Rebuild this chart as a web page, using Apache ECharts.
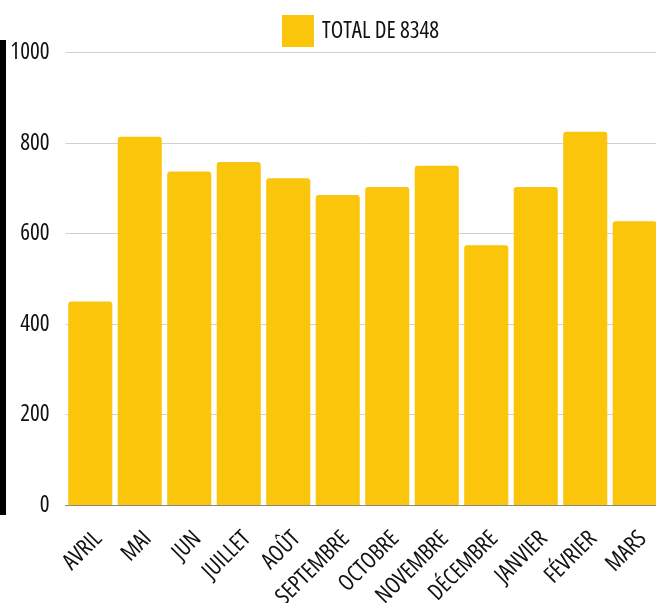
<!DOCTYPE html>
<html>
<head>
<meta charset="utf-8">
<script src="https://cdn.jsdelivr.net/npm/echarts@6/dist/echarts.min.js"></script>
<style>
  html, body { margin: 0; padding: 0; background: #fff; }
  #chart { width: 656px; height: 603px; }
</style>
</head>
<body>
<div id="chart"></div>
<script>
const months = ['AVRIL', 'MAI', 'JUN', 'JUILLET', 'AOÛT', 'SEPTEMBRE', 'OCTOBRE', 'NOVEMBRE', 'DÉCEMBRE', 'JANVIER', 'FÉVRIER', 'MARS']
const totals = [450, 814, 737, 758, 722, 685, 703, 750, 574, 703, 825, 627]
const seriesName = 'TOTAL DE 8348'
const yTicks = { min: 0, max: 1000, step: 200 }

// Open Sans has a condensed face; ask for it through the font shorthand
const font = "'Open Sans', sans-serif"
const narrow = 'condensed'

const chart = echarts.init(document.getElementById('chart'))
chart.setOption({
  backgroundColor: '#fff',
  animation: false,
  graphic: [
    { type: 'rect', shape: { x: 0, y: 40, width: 6, height: 475 }, style: { fill: '#000' } }
  ],
  legend: {
    left: 277,
    top: 10,
    itemWidth: 32,
    itemHeight: 32,
    icon: 'rect',
    textStyle: { fontFamily: font, fontWeight: narrow, fontSize: 23, color: '#111', padding: [0, 0, 0, 3] }
  },
  grid: { left: 65.5, top: 52.5, width: 594, height: 452.5, containLabel: false, outerBoundsMode: 'none' },
  xAxis: {
    type: 'category',
    data: months,
    axisTick: { show: false },
    axisLine: { lineStyle: { color: '#888' } },
    axisLabel: {
      rotate: 45, fontFamily: font, fontWeight: narrow, fontSize: 23, color: '#111',
      margin: 22, interval: 0, verticalAlign: 'top'
    }
  },
  yAxis: {
    type: 'value',
    min: yTicks.min,
    max: yTicks.max,
    interval: yTicks.step,
    axisLine: { show: false },
    axisTick: { show: false },
    splitLine: { lineStyle: { color: '#d0d0d0' } },
    axisLabel: { fontFamily: font, fontWeight: narrow, fontSize: 23, color: '#111', margin: 16, formatter: v => String(v) }
  },
  series: [{
    name: seriesName,
    type: 'bar',
    data: totals,
    barCategoryGap: '11%',
    itemStyle: { color: '#FAC50A', borderRadius: [3, 3, 0, 0] }
  }]
})
</script>
</body>
</html>
